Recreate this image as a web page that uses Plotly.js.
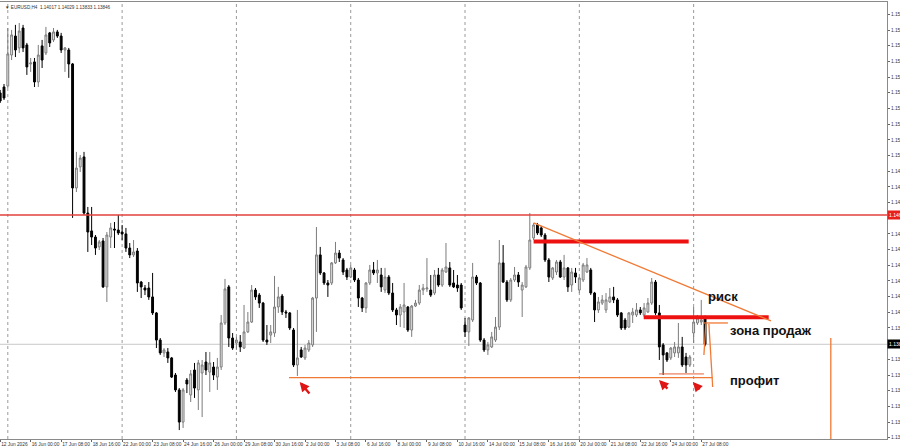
<!DOCTYPE html>
<html><head><meta charset="utf-8">
<script src="https://cdn.plot.ly/plotly-3.0.1.min.js"></script>
<style>html,body{margin:0;padding:0;background:#fff}#chart{width:900px;height:446px}</style>
</head><body><div id="chart"></div>
<script>
// ---- data ----
const tradingDays = ['2026-06-12','2026-06-15','2026-06-16','2026-06-17','2026-06-18','2026-06-19',
 '2026-06-22','2026-06-23','2026-06-24','2026-06-25','2026-06-26',
 '2026-06-29','2026-06-30','2026-07-01','2026-07-02','2026-07-03',
 '2026-07-06','2026-07-07','2026-07-08','2026-07-09','2026-07-10',
 '2026-07-13','2026-07-14','2026-07-15','2026-07-16','2026-07-17',
 '2026-07-20','2026-07-21','2026-07-22','2026-07-23','2026-07-24','2026-07-27'];
const sessionHours = ['00:00','04:00','08:00','12:00','16:00','20:00'];
const firstBar = '2026-06-12 16:00';

const open = [1.15449,1.15487,1.15493,1.15691,1.15812,1.15736,1.15863,1.15755,1.15634,1.15647,
 1.15519,1.15749,1.15704,1.15832,1.15787,1.15838,1.15812,1.15723,1.15723,1.15634,
 1.14843,1.14977,1.15041,1.14683,1.14569,1.14530,1.14467,1.14505,1.14212,1.14530,
 1.14581,1.14575,1.14562,1.14550,1.14460,1.14416,1.14441,1.14243,1.14205,1.14205,
 1.14148,1.14046,1.13873,1.13791,1.13797,1.13759,1.13650,1.13555,1.13350,1.13618,
 1.13523,1.13682,1.13555,1.13663,1.13733,1.13669,1.13701,1.13637,1.13701,1.13982,
 1.14212,1.13886,1.13854,1.13861,1.13822,1.13925,1.13988,1.14192,1.14160,1.14109,
 1.13873,1.13905,1.13918,1.14084,1.14154,1.14052,1.14046,1.13937,1.13714,1.13810,
 1.13759,1.13810,1.13842,1.14141,1.14416,1.14301,1.14237,1.14237,1.14365,1.14428,
 1.14384,1.14320,1.14275,1.14320,1.14256,1.14141,1.14078,1.14237,1.14320,1.14301,
 1.14288,1.14192,1.14275,1.14173,1.14065,1.14033,1.14052,1.14084,1.13937,1.14090,
 1.14109,1.14192,1.14199,1.14192,1.14173,1.14288,1.14224,1.14307,1.14333,1.14237,
 1.14224,1.14224,1.13969,1.13925,1.14001,1.14275,1.14237,1.13873,1.13810,1.13829,
 1.13873,1.13956,1.14365,1.14243,1.14129,1.14256,1.14288,1.14192,1.14212,1.14333,
 1.14524,1.14607,1.14588,1.14543,1.14384,1.14269,1.14307,1.14371,1.14275,1.14333,
 1.14224,1.14301,1.14192,1.14256,1.14307,1.14320,1.14173,1.14065,1.14109,1.14065,
 1.14116,1.14148,1.14129,1.14046,1.14001,1.13956,1.14033,1.14033,1.14065,1.14033,
 1.14052,1.14109,1.14243,1.14046,1.13842,1.13791,1.13759,1.13791,1.13791,1.13829,
 1.13765,1.13714,1.13918,1.13982,1.13988,1.14017];
const high = [1.15468,1.15506,1.15863,1.15851,1.15883,1.15895,1.15883,1.15768,1.15672,1.15672,
 1.15755,1.15787,1.15870,1.15838,1.15863,1.15851,1.15832,1.15742,1.15736,1.15640,
 1.15073,1.15053,1.15073,1.14722,1.14722,1.14543,1.14511,1.14524,1.14562,1.14620,
 1.14626,1.14671,1.14607,1.14588,1.14492,1.14511,1.14460,1.14250,1.14224,1.14243,
 1.14301,1.14052,1.13886,1.13822,1.13822,1.13765,1.13663,1.13567,1.13567,1.13631,
 1.13682,1.13727,1.13746,1.13746,1.13797,1.13797,1.13733,1.13759,1.14033,1.14263,
 1.14224,1.13918,1.13893,1.13905,1.14097,1.14052,1.14224,1.14205,1.14173,1.14116,
 1.13969,1.13969,1.14282,1.14212,1.14167,1.14065,1.14052,1.13950,1.14065,1.13829,
 1.13842,1.13873,1.14148,1.14594,1.14467,1.14307,1.14256,1.14371,1.14499,1.14447,
 1.14396,1.14333,1.14352,1.14333,1.14269,1.14148,1.14243,1.14352,1.14371,1.14384,
 1.14333,1.14333,1.14288,1.14237,1.14078,1.14103,1.14237,1.14090,1.14097,1.14129,
 1.14224,1.14231,1.14396,1.14288,1.14320,1.14333,1.14333,1.14492,1.14371,1.14320,
 1.14288,1.14237,1.14014,1.14020,1.14365,1.14288,1.14243,1.13886,1.13861,1.13925,
 1.14020,1.14511,1.14479,1.14256,1.14269,1.14339,1.14307,1.14243,1.14352,1.14683,
 1.14620,1.14620,1.14601,1.14556,1.14396,1.14339,1.14384,1.14384,1.14416,1.14339,
 1.14333,1.14333,1.14275,1.14365,1.14396,1.14333,1.14180,1.14148,1.14160,1.14173,
 1.14205,1.14212,1.14141,1.14052,1.14014,1.14052,1.14078,1.14109,1.14084,1.14109,
 1.14141,1.14269,1.14256,1.14097,1.13854,1.13797,1.13829,1.13861,1.13982,1.13893,
 1.13791,1.13778,1.14084,1.14033,1.14129,1.14029];
const low = [1.15385,1.15404,1.15481,1.15659,1.15678,1.15704,1.15710,1.15564,1.15583,1.15487,
 1.15487,1.15608,1.15691,1.15742,1.15774,1.15800,1.15704,1.15583,1.15545,1.14652,
 1.14817,1.14945,1.14671,1.14435,1.14479,1.14416,1.14447,1.14205,1.14116,1.14460,
 1.14460,1.14543,1.14511,1.14435,1.14396,1.14403,1.14180,1.14141,1.14160,1.14129,
 1.14033,1.13822,1.13778,1.13765,1.13727,1.13631,1.13542,1.13299,1.13312,1.13535,
 1.13478,1.13504,1.13427,1.13382,1.13650,1.13542,1.13618,1.13555,1.13682,1.13969,
 1.13829,1.13810,1.13810,1.13797,1.13816,1.13918,1.13982,1.14129,1.14078,1.13861,
 1.13842,1.13854,1.13893,1.14046,1.14033,1.14014,1.13937,1.13701,1.13644,1.13759,
 1.13746,1.13797,1.13829,1.13925,1.14288,1.14224,1.14148,1.14224,1.14358,1.14371,
 1.14288,1.14256,1.14269,1.14243,1.14084,1.14052,1.14046,1.14224,1.14288,1.14237,
 1.14180,1.14173,1.14160,1.14052,1.13969,1.13956,1.13950,1.13925,1.13893,1.14084,
 1.14097,1.14160,1.14180,1.14148,1.14160,1.14212,1.14212,1.14301,1.14212,1.14205,
 1.14180,1.14065,1.13893,1.13835,1.13988,1.14224,1.13861,1.13797,1.13778,1.13822,
 1.13861,1.13937,1.14237,1.14116,1.14116,1.14243,1.14212,1.14020,1.14205,1.14320,
 1.14511,1.14543,1.14530,1.14371,1.14243,1.14256,1.14288,1.14269,1.14256,1.14180,
 1.14180,1.14237,1.14173,1.14243,1.14301,1.14160,1.13988,1.14046,1.14097,1.14046,
 1.14109,1.14109,1.14020,1.13937,1.13937,1.13950,1.13982,1.14020,1.14033,1.14020,
 1.14046,1.14097,1.14033,1.13746,1.13650,1.13733,1.13746,1.13765,1.13759,1.13701,
 1.13663,1.13701,1.13854,1.13969,1.13969,1.13833];
const close = [1.15398,1.15417,1.15698,1.15819,1.15723,1.15844,1.15736,1.15615,1.15640,1.15519,
 1.15691,1.15659,1.15819,1.15768,1.15838,1.15812,1.15723,1.15736,1.15634,1.14843,
 1.14970,1.15034,1.14683,1.14562,1.14530,1.14460,1.14499,1.14212,1.14543,1.14588,
 1.14575,1.14556,1.14550,1.14460,1.14416,1.14435,1.14237,1.14212,1.14192,1.14148,
 1.14046,1.13873,1.13791,1.13810,1.13759,1.13637,1.13555,1.13350,1.13555,1.13593,
 1.13657,1.13567,1.13727,1.13714,1.13682,1.13727,1.13650,1.13701,1.13982,1.14199,
 1.13886,1.13822,1.13873,1.13829,1.13925,1.13988,1.14192,1.14148,1.14109,1.13873,
 1.13861,1.13925,1.14084,1.14148,1.14052,1.14046,1.13950,1.13714,1.13759,1.13765,
 1.13822,1.13854,1.14141,1.14416,1.14301,1.14237,1.14224,1.14365,1.14428,1.14396,
 1.14307,1.14275,1.14333,1.14256,1.14141,1.14078,1.14237,1.14320,1.14301,1.14320,
 1.14212,1.14275,1.14173,1.14065,1.14033,1.14084,1.14097,1.13937,1.14090,1.14109,
 1.14192,1.14205,1.14205,1.14160,1.14288,1.14224,1.14320,1.14339,1.14224,1.14212,
 1.14205,1.14078,1.13925,1.14014,1.14275,1.14237,1.13873,1.13810,1.13842,1.13893,
 1.13956,1.14365,1.14243,1.14129,1.14256,1.14288,1.14243,1.14224,1.14339,1.14511,
 1.14607,1.14556,1.14543,1.14384,1.14275,1.14333,1.14371,1.14275,1.14333,1.14212,
 1.14307,1.14275,1.14269,1.14352,1.14352,1.14173,1.14065,1.14116,1.14129,1.14129,
 1.14148,1.14129,1.14033,1.13950,1.13950,1.14046,1.14052,1.14065,1.14046,1.14078,
 1.14109,1.14243,1.14046,1.13829,1.13778,1.13746,1.13822,1.13829,1.13829,1.13714,
 1.13714,1.13765,1.13988,1.14014,1.14001,1.13846];

const tickLabels = ['12 Jun 2026','16 Jun 00:00','17 Jun 08:00','18 Jun 16:00','22 Jun 00:00','23 Jun 08:00',
 '24 Jun 16:00','26 Jun 00:00','29 Jun 08:00','30 Jun 16:00','2 Jul 00:00','3 Jul 08:00','6 Jul 16:00',
 '8 Jul 00:00','9 Jul 08:00','10 Jul 16:00','14 Jul 00:00','15 Jul 08:00','16 Jul 16:00','20 Jul 00:00',
 '21 Jul 08:00','22 Jul 16:00','24 Jul 00:00','27 Jul 08:00'];
const weekStarts = ['2026-06-15 00:00','2026-06-22 00:00','2026-06-29 00:00','2026-07-06 00:00',
 '2026-07-13 00:00','2026-07-20 00:00','2026-07-27 00:00'];
const priceTicks = [1.1325,1.1335,1.1345,1.1355,1.1365,1.1375,1.1395,1.1405,1.1415,1.1425,1.1435,
 1.1445,1.1455,1.1475,1.1485,1.1495,1.1505,1.1515,1.1525,1.1535,1.1545,1.1555,1.1565,1.1575,
 1.1585,1.1595];

const symbol = 'EURUSD,H4';
const levelPrice = 1.14671;
// hand-drawn objects: [bar0, price0, bar1, price1]
const zoneLines = [[140.0,1.14502,180.7,1.14502],[168.9,1.14018,201.7,1.14018]];
const orangeLines = [
  [140.0,1.14620,202.3,1.13995],
  [75.8,1.13633,187.0,1.13633],
  [184.7,1.13982,191.0,1.13982],
  [185.2,1.13976,184.7,1.13778],
  [186.0,1.13976,187.0,1.13574],
  [218.0,1.13886,218.0,1.1300]
];
const lowsLine = [172.9,1.13657,184.7,1.13657];
const arrows = [[78.6,1.13606,11,13],[172.9,1.13618,10,10],[181.8,1.13606,8,9]];
const notes = [['риск',185.2,1.14148],['зона продаж',191.0,1.13937],['профит',191.0,1.13612]];

// ---- build ----
const allSlots = tradingDays.flatMap(d => sessionHours.map(h => d + ' ' + h));
const start = allSlots.indexOf(firstBar);
const times = allSlots.slice(start, start + open.length);
const tickvals = times.filter((t, i) => i % 8 === 0);
const last = open.length - 1;

const trace = {
  type: 'candlestick', x: times, open, high, low, close,
  increasing: {line: {color: '#7c7c7c', width: 1}, fillcolor: '#ececec'},
  decreasing: {line: {color: '#000000', width: 1}, fillcolor: '#000000'},
  whiskerwidth: 0, hoverinfo: 'skip', showlegend: false
};

const shapes = [];
weekStarts.forEach(w => {
  const i = times.indexOf(w);
  shapes.push({type:'line', xref:'x', yref:'paper', x0:i, x1:i, y0:0, y1:1, layer:'below',
    line:{color:'#9a9a9a', width:1, dash:'dot'}});
});
shapes.push({type:'line', xref:'paper', yref:'y', x0:0, x1:1, y0:close[last], y1:close[last], layer:'below',
  line:{color:'#c9c9c9', width:1}});
shapes.push({type:'line', xref:'paper', yref:'y', x0:0, x1:1, y0:levelPrice, y1:levelPrice,
  line:{color:'#e2413c', width:1.4}});
zoneLines.forEach(z => shapes.push({type:'line', xref:'x', yref:'y', x0:z[0], y0:z[1], x1:z[2], y1:z[3],
  line:{color:'#ee1111', width:4}}));
orangeLines.forEach(z => shapes.push({type:'line', xref:'x', yref:'y', x0:z[0], y0:z[1], x1:z[2], y1:z[3],
  line:{color:'#f07a35', width:1.3}}));
shapes.push({type:'line', xref:'x', yref:'y', x0:lowsLine[0], y0:lowsLine[1], x1:lowsLine[2], y1:lowsLine[3],
  line:{color:'#e8603a', width:1}});

const annotations = [];
annotations.push({xref:'paper', yref:'paper', x:0.003, y:0.997, xanchor:'left', yanchor:'top', showarrow:false,
  text:'▼ ' + symbol + '  ' + open[last].toFixed(5) + ' ' + high[last].toFixed(5) + ' ' + low[last].toFixed(5) + ' ' + close[last].toFixed(5),
  font:{size:4.6, color:'#333', family:'Liberation Sans'}});
annotations.push({xref:'paper', yref:'y', x:1, y:levelPrice, xanchor:'left', yanchor:'middle', showarrow:false,
  text:levelPrice.toFixed(5), bgcolor:'#e8201c', borderpad:1, font:{size:5, color:'#fff', family:'Liberation Sans'}});
annotations.push({xref:'paper', yref:'y', x:1, y:close[last], xanchor:'left', yanchor:'middle', showarrow:false,
  text:close[last].toFixed(5), bgcolor:'#000', borderpad:1, font:{size:5, color:'#fff', family:'Liberation Sans'}});
notes.forEach(n => annotations.push({xref:'x', yref:'y', x:n[1], y:n[2], xanchor:'left', yanchor:'middle',
  showarrow:false, text:'<b>' + n[0] + '</b>', font:{size:13, color:'#111', family:'Liberation Sans'}}));
arrows.forEach(a => annotations.push({xref:'x', yref:'y', x:a[0], y:a[1], ax:a[2], ay:a[3], text:'',
  showarrow:true, arrowhead:2, arrowsize:0.8, arrowwidth:2.4, arrowcolor:'#e01515', standoff:0}));

const tickFont = {size:4.8, color:'#333', family:'Liberation Sans'};
const layout = {
  width:900, height:446, margin:{l:0, r:13, t:2, b:7},
  paper_bgcolor:'#ffffff', plot_bgcolor:'#ffffff', showlegend:false, boxgap:0.3,
  xaxis:{type:'category', range:[-0.05, 232.75], rangeslider:{visible:false}, showgrid:false,
    tickmode:'array', tickvals:tickvals, ticktext:tickLabels, tickangle:0, ticks:'outside', ticklen:2,
    tickcolor:'#666', ticklabelposition:'outside right', tickfont:tickFont,
    showline:true, linecolor:'#8a8a8a', linewidth:1, mirror:true, zeroline:false, fixedrange:true},
  yaxis:{side:'right', range:[1.13242, 1.16029], tickmode:'array', tickvals:priceTicks, tickformat:'.5f',
    ticks:'outside', ticklen:2, tickcolor:'#666', tickfont:tickFont, showgrid:false,
    showline:true, linecolor:'#8a8a8a', linewidth:1, mirror:true, zeroline:false, fixedrange:true},
  shapes, annotations
};
Plotly.newPlot('chart', [trace], layout, {staticPlot:true, displayModeBar:false});
</script>
</body></html>
